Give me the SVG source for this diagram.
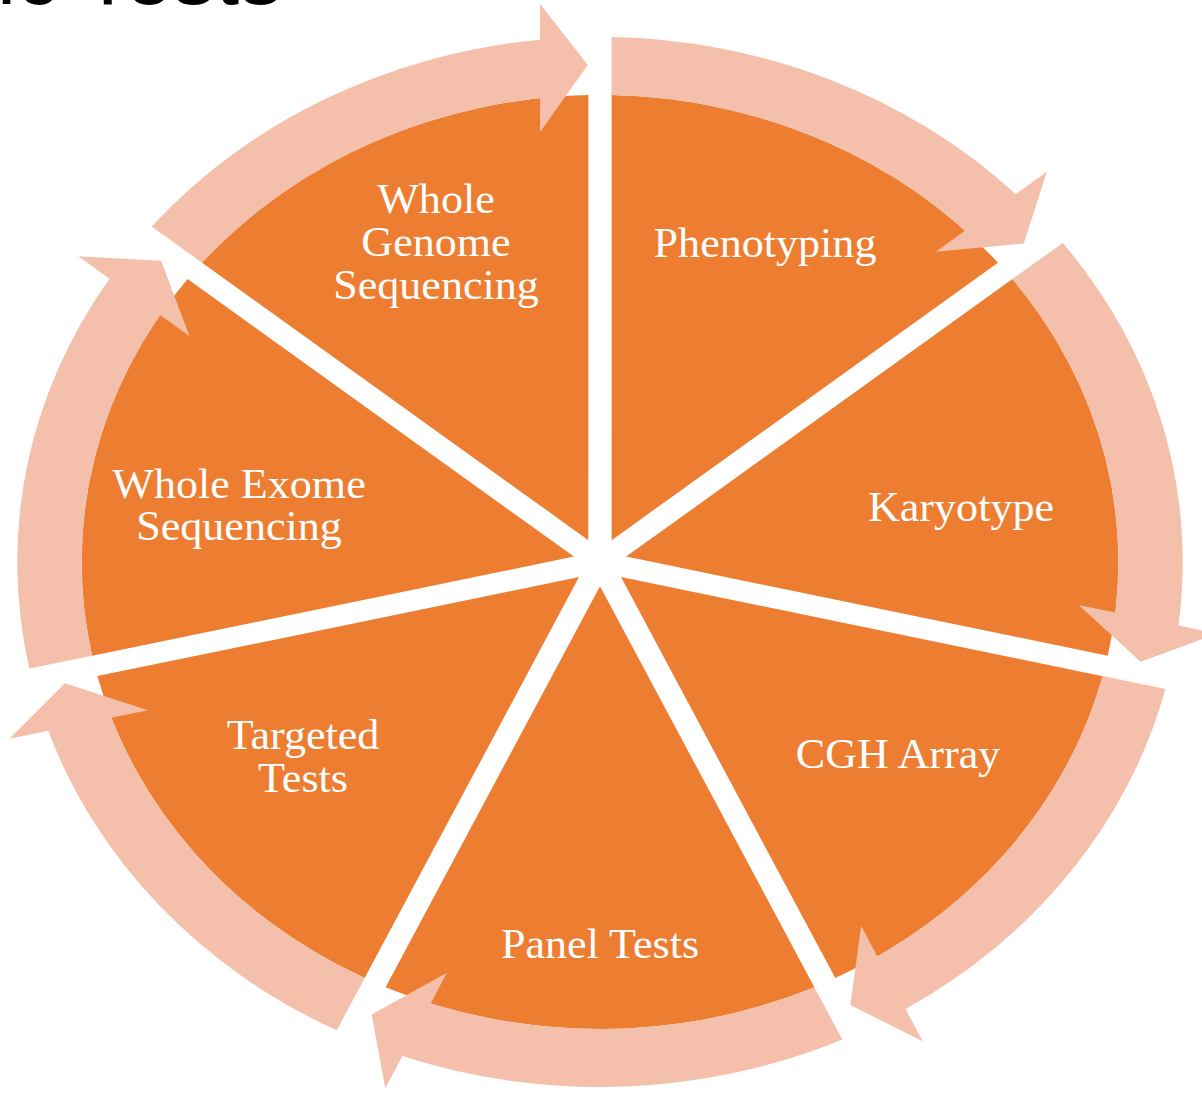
<svg xmlns="http://www.w3.org/2000/svg" xmlns:xlink="http://www.w3.org/1999/xlink" width="1202" height="1096" viewBox="0 0 1202 1096">
<style>
.seg{fill:#ED7D31}
.arr{fill:#F4BFAB}
.lbl{font-family:"Liberation Serif","Times New Roman",serif;font-size:42px;fill:#FFFFFF;text-anchor:middle}
.title{font-family:"Liberation Sans",Arial,sans-serif;font-size:86px;fill:#000000}
</style>
<defs>
<path id="wedge" d="M 21.81,10.5 L 466.88,10.5 A 467 467 0 0 1 299.27,358.5 Z"/>
<path id="arrow" d="M 335.45,-403.85 A 525 525 0 0 1 522.2,-54 L 558,-54 L 497,-11 L 430,-54 L 463.9,-54 A 467 467 0 0 0 299.27,-358.5 Z"/>
</defs>
<rect width="1202" height="1096" fill="#FFFFFF"/>
<text class="title" x="-3" y="4">ic Tests</text>
<g id="wgs">
<use xlink:href="#wedge" class="seg" transform="translate(600,562) scale(1.11,1) rotate(-141.4286)"/>
<g transform="translate(436,213) scale(1.05,1)"><text class="lbl"><tspan x="0" y="0">Whole</tspan><tspan x="0" y="43">Genome</tspan><tspan x="0" y="86">Sequencing</tspan></text></g>
</g>
<g id="phenotyping">
<use xlink:href="#wedge" class="seg" transform="translate(600,562) scale(1.11,1) rotate(-90)"/>
<g transform="translate(765,257) scale(1.05,1)"><text class="lbl" x="0" y="0">Phenotyping</text></g>
</g>
<g id="karyotype">
<use xlink:href="#wedge" class="seg" transform="translate(600,562) scale(1.11,1) rotate(-38.5714)"/>
<g transform="translate(961,521) scale(1.05,1)"><text class="lbl" x="0" y="0">Karyotype</text></g>
</g>
<g id="cgh">
<use xlink:href="#wedge" class="seg" transform="translate(600,562) scale(1.11,1) rotate(12.8571)"/>
<g transform="translate(898,768) scale(1.05,1)"><text class="lbl" x="0" y="0">CGH Array</text></g>
</g>
<g id="panel">
<use xlink:href="#wedge" class="seg" transform="translate(600,562) scale(1.11,1) rotate(64.2857)"/>
<g transform="translate(600,958) scale(1.05,1)"><text class="lbl" x="0" y="0">Panel Tests</text></g>
</g>
<g id="targeted">
<use xlink:href="#wedge" class="seg" transform="translate(600,562) scale(1.11,1) rotate(115.7143)"/>
<g transform="translate(303,749) scale(1.05,1)"><text class="lbl"><tspan x="0" y="0">Targeted</tspan><tspan x="0" y="43">Tests</tspan></text></g>
</g>
<g id="wes">
<use xlink:href="#wedge" class="seg" transform="translate(600,562) scale(1.11,1) rotate(167.1429)"/>
<g transform="translate(239,498) scale(1.05,1)"><text class="lbl"><tspan x="0" y="0">Whole Exome</tspan><tspan x="0" y="42">Sequencing</tspan></text></g>
</g>
<g id="connectors" transform="translate(600,562) scale(1.11,1)">
<use xlink:href="#arrow" class="arr" transform="rotate(-90)"/>
<use xlink:href="#arrow" class="arr" transform="rotate(-38.5714)"/>
<use xlink:href="#arrow" class="arr" transform="rotate(12.8571)"/>
<use xlink:href="#arrow" class="arr" transform="rotate(64.2857)"/>
<use xlink:href="#arrow" class="arr" transform="rotate(115.7143)"/>
<use xlink:href="#arrow" class="arr" transform="rotate(167.1429)"/>
<use xlink:href="#arrow" class="arr" transform="rotate(218.5714)"/>
</g>
</svg>
